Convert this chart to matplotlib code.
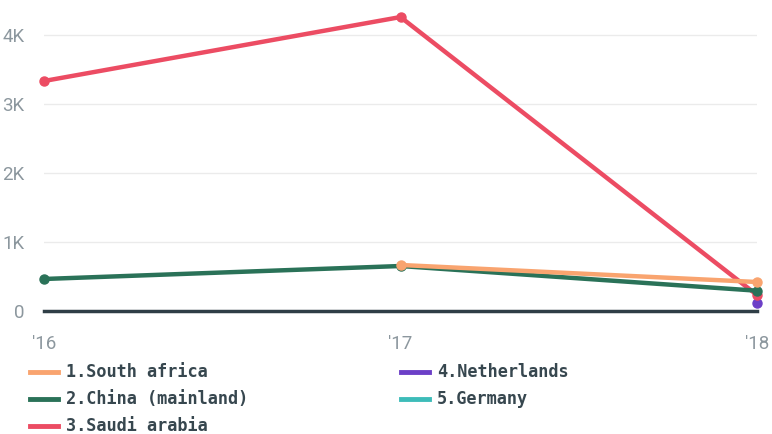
import numpy as np
import matplotlib
matplotlib.use("Agg")
import matplotlib.pyplot as plt
from matplotlib.lines import Line2D

years = ["'16", "'17", "'18"]
series_names = ["1.South africa", "2.China (mainland)", "3.Saudi arabia", "4.Netherlands", "5.Germany"]
south_africa = [np.nan, 667, 420]
china = [464, 652, 294]
saudi_arabia = [3333, 4260, 232]
netherlands = [np.nan, np.nan, 120]
germany = [np.nan, np.nan, np.nan]
colors = ["#f9a46f", "#2a7258", "#ec4c63", "#6c3fc7", "#3dbcb9"]
yticks = [0, 1000, 2000, 3000, 4000]
ytick_labels = ["0", "1K", "2K", "3K", "4K"]

data = [south_africa, china, saudi_arabia, netherlands, germany]

fig = plt.figure(figsize=(7.72, 4.34), dpi=100)
ax = fig.add_axes([44/772, (434-311)/434, (757-44)/772, 311/434])
x = np.arange(len(years))

for i, (vals, c) in enumerate(zip(data, colors)):
    z = 10 - i
    ax.plot(x, vals, color=c, lw=3.2, marker="o", markersize=6.5, zorder=z,
            clip_on=False, solid_capstyle="round")

ax.set_xlim(0, 2)
ax.set_ylim(0, 4507)
for s in ax.spines.values():
    s.set_visible(False)
ax.axhline(0, color="#2f3e46", lw=2.5, zorder=3, clip_on=False)
for t in yticks[1:]:
    ax.axhline(t, color="#ebebeb", lw=1, zorder=0)
ax.set_yticks(yticks)
ax.set_yticklabels(ytick_labels)
ax.set_xticks(x)
ax.set_xticklabels(years)
ax.tick_params(length=0, labelsize=13.5, labelcolor="#8c979e")
ax.tick_params(axis="x", pad=17)
ax.tick_params(axis="y", pad=14)
for lab in ax.get_xticklabels() + ax.get_yticklabels():
    lab.set_fontfamily("Roboto")
    lab.set_fontstretch("condensed")

# legend
col_x = [30, 401]
row_y = [372, 399, 426]
for i, (name, c) in enumerate(zip(series_names, colors)):
    col = i // 3
    row = i % 3
    x0 = col_x[col]
    y0 = row_y[row]
    fig.add_artist(Line2D([x0/772, (x0+28)/772], [1 - y0/434]*2, color=c, lw=3.5,
                          transform=fig.transFigure))
    fig.text((x0+36)/772, 1 - y0/434, name, fontsize=12.2, fontweight="bold",
             family="DejaVu Sans Mono", color="#37474f", va="center", ha="left")

fig.savefig("out.png", dpi=100)
